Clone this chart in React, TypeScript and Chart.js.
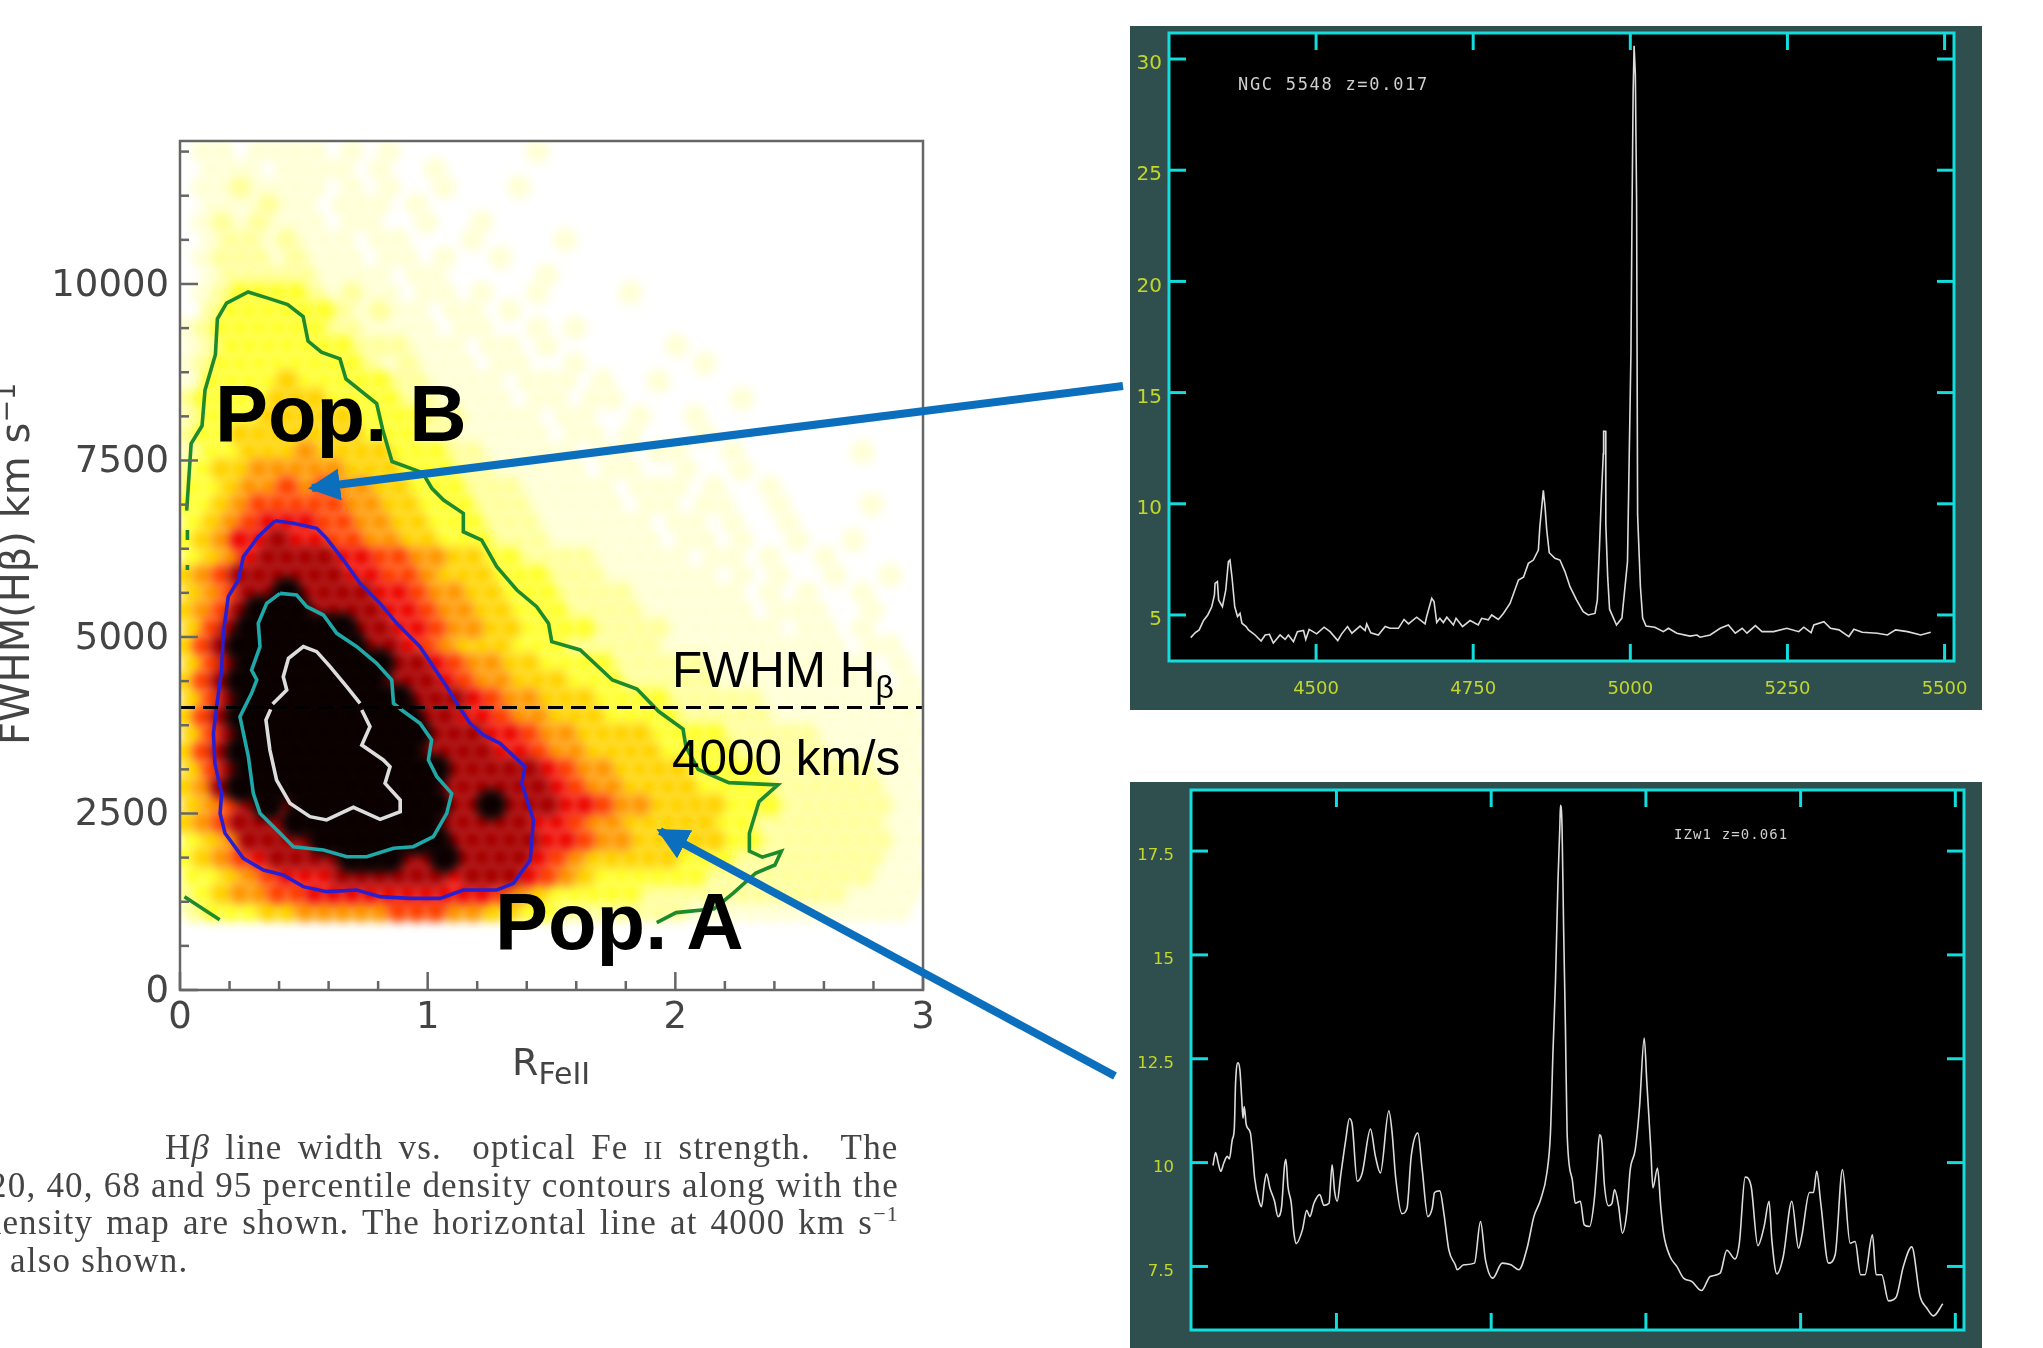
import React, { useEffect, useRef } from "react";
import { Chart, registerables } from "chart.js";

Chart.register(...registerables);

// ---------- density map: one digit per hex cell, level 0 (empty) .. 9 (black) ----------
const densityTopY = 11875;
const densityStepY = 250;
const densityStepX = 0.075;
const densityRows = [
  "0110111101010000000100000000000000000000",
  "0111011110100100000000000000000000000000",
  "0112111101010010001000000000000000000000",
  "0111211011101000000000000000000000000000",
  "0121211101100100100000000000000000000000",
  "0122121110110001000010000000000000000000",
  "0122212111011010010000000000000000000000",
  "0122222111101100000100000000000000000000",
  "0123333212110110100100001000000000000000",
  "0233333321211011010000000000000000000000",
  "1233333322111101100101000000000000000000",
  "1233333332221110110100000010000000000000",
  "1233333333212111011001000000100000000000",
  "1333343333322111101110100100000000000000",
  "2333344433332211110110110000001000000000",
  "2333444443333221111011001001000000000000",
  "2334444444333221111101101000100000000000",
  "2334445444433322111110110110010000001000",
  "2344555554443332211111011001001000000000",
  "3345565655443332221111101110100100000000",
  "3345666665544333222111110110110010000100",
  "3456777665544333222111111011010010000000",
  "3457787766554433322211111101101001001000",
  "3457888877665544332222111110110100100000",
  "4568888887766544433322211111101010010010",
  "4568898888776554433322221111110101001000",
  "4568999888877655443332222111111011100100",
  "4689999998877655443333222211111101101000",
  "4689999999887654443332222211111111110110",
  "4689999999988765544333322222111111111010",
  "4689999999988876554443332222211111111101",
  "4689999999998887655444333322222111111111",
  "4689999999999887765544433332222211111111",
  "4689999999999888776554444333322222111111",
  "4689999999999888877655444433332222211111",
  "4689999999999988888765544443333222222111",
  "4589999999999988888876554444333322222211",
  "4568989999999988988877655444433322222211",
  "4568889999999988888776554444433222222211",
  "3458888999999988888776554444433222222211",
  "3456788889998898888765444443332222222211",
  "3345677788888878887654333333222222222111",
  "2345566777777777765433333222222222221111",
  "2333445555566655443322222221111111111110",
];
const densityColors = ["#ffffff", "#ffffd6", "#ffff9c", "#ffff2e", "#ffd400", "#ff9800", "#ff4500", "#ee0a00", "#a80000", "#0c0000"];
const densityRadius = [0, 12, 12, 12, 12, 12, 12, 12, 13, 16];

// ---------- contours (RFeII, FWHM) ----------
const greenContour = [[.027,6790],[.045,7738],[.089,7991],[.101,8496],[.143,9002],[.151,9507],[.188,9728],[.275,9886],[.361,9792],[.435,9709],[.497,9539],[.517,9191],[.571,9033],[.646,8939],[.670,8654],[.794,8307],[.819,7928],[.856,7485],[.979,7328],[1.017,7106],[1.064,6940],[1.144,6751],[1.144,6491],[1.218,6373],[1.279,5996],[1.36,5665],[1.44,5429],[1.488,5193],[1.501,4934],[1.616,4816],[1.746,4390],[1.845,4263],[1.932,3947],[2.031,3695],[2.043,3442],[2.092,3126],[2.216,2937],[2.414,2905],[2.338,2669],[2.299,2219],[2.299,1966],[2.351,1882],[2.428,1966],[2.402,1770],[2.325,1657],[2.235,1376],[2.157,1152],[2.003,1096],[1.925,955]];
const greenCorner = [[.018,1320],[.16,994]];
const greenFragmentA = [[.03,6515],[.03,6326]];
const greenFragmentB = [[.03,6020],[.03,5950]];
const blueContour = [[.384,6647],[.458,6610],[.552,6539],[.592,6397],[.660,6090],[.727,5760],[.808,5476],[.875,5193],[.969,4863],[1.023,4580],[1.077,4296],[1.131,3989],[1.171,3777],[1.225,3612],[1.292,3494],[1.393,3163],[1.380,2927],[1.427,2408],[1.414,1841],[1.346,1511],[1.279,1416],[1.144,1416],[1.050,1298],[.929,1298],[.808,1322],[.714,1416],[.592,1393],[.498,1464],[.417,1629],[.337,1700],[.256,1865],[.182,2219],[.162,2502],[.168,2785],[.141,3210],[.135,3635],[.148,4013],[.168,4532],[.175,5052],[.195,5571],[.236,5807],[.256,6137],[.316,6421],[.384,6647]];
const tealContour = [[.404,5618],[.471,5595],[.512,5429],[.579,5311],[.633,5052],[.714,4863],[.794,4627],[.855,4391],[.862,4060],[.895,3966],[.969,3777],[1.016,3541],[1.003,3258],[1.037,3022],[1.097,2785],[1.077,2502],[1.023,2172],[.942,2030],[.862,2007],[.754,1888],[.673,1888],[.579,1983],[.458,2030],[.404,2219],[.323,2502],[.296,2785],[.276,3305],[.242,3871],[.289,4202],[.310,4391],[.289,4532],[.323,4863],[.316,5193],[.350,5476],[.404,5618]];
const whiteContourLower = [[.734,3966],[.767,3730],[.734,3470],[.821,3258],[.848,3163],[.828,2927],[.889,2691],[.889,2526],[.808,2417],[.700,2587],[.592,2408],[.525,2455],[.444,2644],[.390,2974],[.363,3399],[.347,3824],[.366,3975]];
const whiteContourUpper = [[.374,4051],[.431,4249],[.417,4438],[.438,4697],[.498,4863],[.552,4792],[.606,4580],[.673,4296],[.727,4060]];
const splitLine = [[0,4000],[3,4000]];

const leftXTicks = [0, 1, 2, 3];
const leftYTicks = [0, 2500, 5000, 7500, 10000];
const leftXMinor = [0.2,0.4,0.6,0.8,1.2,1.4,1.6,1.8,2.2,2.4,2.6,2.8];
const leftYMinor = [625,1250,1875,3125,3750,4375,5625,6250,6875,8125,8750,9375,10625,11250,11875];

// ---------- spectra ----------
const waveTicks = [4500, 4750, 5000, 5250, 5500];
const ngcFluxTicks = [5, 10, 15, 20, 25, 30];
const izwFluxTicks = [7.5, 10, 12.5, 15, 17.5];

const ngcWave = [4300.6,4307.5,4314,4321,4327.7,4334,4338.3,4339.3,4343,4345,4351,4356.3,4360.5,4363,4366.4,4370.6,4375,4379,4382,4388.7,4392.4,4403,4412.5,4419,4425.8,4432,4442.7,4450.7,4456,4464,4470.3,4480,4483.6,4489,4501,4512.7,4522.3,4534.5,4540.8,4550,4557,4570,4578,4580.6,4587,4599,4610,4617.7,4631,4640,4647,4660,4673.4,4676,4684,4687.7,4692,4697,4702.5,4708,4718.5,4722.7,4733,4745,4758,4763.5,4774,4779.4,4790,4798,4808.6,4822,4830,4837.8,4845.7,4853.7,4856,4861.6,4864.3,4867,4871,4880,4888,4896,4904,4914.6,4925,4933,4943.8,4947.5,4951,4953.6,4957,4957.5,4960.7,4961,4964,4967,4978,4986.6,4995.5,4998,5001,5002.7,5004.5,5006,5008,5010,5011.6,5016,5019.6,5025,5039,5052.6,5060.6,5074,5095,5106,5111,5127,5143,5156,5167,5178,5185.6,5199,5209.5,5228,5249,5268,5276,5287.6,5292,5308,5318.6,5332,5347.7,5355.7,5369,5393,5409,5422,5441,5462,5478];
const ngcFlux = [3.98,4.2,4.33,4.75,5,5.37,5.9,6.42,6.5,5.67,5.37,6.12,7.4,7.47,6.65,5.37,4.93,5.07,4.63,4.48,4.33,4.1,3.83,4.1,4.13,3.74,4.1,3.9,4.1,3.8,4.25,4.3,3.9,4.35,4.15,4.45,4.25,3.85,4.15,4.48,4.18,4.5,4.3,4.6,4.2,4.1,4.48,4.4,4.4,4.8,4.6,4.9,4.6,4.93,5.75,5.6,4.66,4.85,4.66,4.9,4.55,4.85,4.48,4.75,4.55,4.85,4.78,5,4.8,5.07,5.52,6.57,6.7,7.32,7.47,7.92,8.95,10.6,9.87,8.82,7.8,7.55,7.47,6.95,6.27,5.67,5.15,5,5.07,5.67,8.1,10.1,12.25,13.26,13.26,9.1,6.7,5.26,4.55,4.86,7.4,11.7,16.8,23.1,28.5,30.6,29.3,23.6,9.5,6.3,4.86,4.5,4.45,4.25,4.4,4.18,4.05,4.1,4,4.1,4.4,4.55,4.18,4.4,4.18,4.52,4.25,4.25,4.4,4.25,4.45,4.2,4.55,4.7,4.4,4.33,4.03,4.36,4.22,4.18,4.1,4.33,4.25,4.1,4.22];

const izwWave = [4300.5,4304.8,4309,4313,4318,4323.6,4327,4331.7,4335,4337,4341,4344,4346.8,4349,4351,4354.3,4361,4364,4367.8,4375,4379,4383,4387,4392.5,4400,4405.5,4411.4,4416,4418.4,4421.6,4427,4431.3,4435,4445,4452,4457,4463.6,4473,4479.8,4488,4493,4497,4501.3,4506.7,4515,4521,4525.5,4533.6,4541.7,4555,4563,4571,4584.7,4590,4595.5,4606,4614,4620.8,4631.6,4638.6,4647.7,4654.7,4658.5,4667,4673.6,4681.6,4692,4695,4705.9,4723,4732.8,4740.8,4752.7,4767.8,4782,4794.7,4808,4819,4829.7,4840,4845.8,4850,4854,4858,4861,4862,4864.5,4867,4870,4872.7,4881,4886,4894,4900.4,4909,4916.6,4921,4925,4929,4932.7,4939.7,4945,4949.4,4955.9,4962,4969,4974.7,4982.8,4989.8,4997.3,5001.6,5008,5011.3,5018.8,5024,5028.5,5039,5050,5060.8,5074,5090,5103.9,5120,5130.8,5144,5151,5160.4,5170,5180.9,5191,5199,5203.5,5211.6,5222,5235.8,5246.6,5252,5264.3,5270.8,5276,5282.6,5295,5305.8,5317.6,5330,5338,5347,5354,5366,5372,5381,5392,5404,5416,5429.6,5443,5453.8,5464.6,5479.7];
const izwFlux = [9.93,10.24,9.99,9.79,9.99,10.15,10.09,10.55,10.83,11.91,12.4,12.23,11.59,11.07,11.35,10.91,10.71,10.31,9.63,9.07,8.94,9.43,9.73,9.39,9.07,8.7,8.94,9.91,10.08,9.43,9.02,8.3,8.05,8.38,8.85,8.7,9.02,9.23,8.97,9.02,9.95,9.31,9.07,9.67,10.55,11.06,10.91,9.55,9.75,10.81,10.15,9.75,11.25,10.71,9.67,8.77,8.9,10.15,10.71,9.83,8.7,8.9,9.28,9.32,8.78,7.9,7.54,7.42,7.54,7.58,8.58,7.66,7.22,7.58,7.54,7.42,7.94,8.7,9.1,9.75,10.71,12.72,14.4,16.8,18.1,18.6,18.1,15.7,13.25,10.71,9.59,9.02,9.07,8.5,8.46,9.1,9.91,10.67,10.47,9.51,8.96,9.01,9.35,8.95,8.3,8.78,9.83,10.31,11.35,13,11.91,10.31,9.39,9.87,8.94,8.3,7.74,7.5,7.22,7.14,6.92,7.26,7.34,7.89,7.68,8.06,9.65,9.43,8,8.46,9.07,8.14,7.32,7.74,9.07,7.94,8.24,9.28,9.28,9.79,9.02,7.58,7.78,9.83,8.06,8.1,7.3,7.3,8.26,7.3,7.3,6.67,6.75,7.5,7.97,6.78,6.5,6.31,6.6];

const pairs = (p: number[][]) => p.map(([x, y]) => ({ x, y }));
const zip = (xs: number[], ys: number[]) => xs.map((x, i) => ({ x, y: ys[i] }));

function densityPoints() {
  const cells: { x: number; y: number; level: number }[] = [];
  densityRows.forEach((row, r) => {
    const shift = r % 2 ? densityStepX / 2 : 0;
    for (let c = 0; c < row.length; c++) {
      const level = Number(row[c]);
      if (level > 0) cells.push({ x: densityStepX * (c + 0.5) + shift - densityStepX / 4, y: densityTopY - r * densityStepY, level });
    }
  });
  return cells.sort((a, b) => a.level - b.level);
}

type FrameOpts = { color: string; width: number; major: number; minor?: number; xMinor?: number[]; yMinor?: number[]; mirror?: boolean; fill?: string };

const framePlugin = (o: FrameOpts) => ({
  id: "frame",
  beforeDatasetsDraw(chart: any) {
    if (!o.fill) return;
    const a = chart.chartArea;
    chart.ctx.fillStyle = o.fill;
    chart.ctx.fillRect(a.left, a.top, a.right - a.left, a.bottom - a.top);
  },
  afterDraw(chart: any) {
    const { ctx, chartArea: a, scales } = chart;
    ctx.save();
    ctx.strokeStyle = o.color;
    ctx.lineWidth = o.width;
    ctx.strokeRect(a.left, a.top, a.right - a.left, a.bottom - a.top);
    const seg = (x1: number, y1: number, x2: number, y2: number) => {
      ctx.beginPath(); ctx.moveTo(x1, y1); ctx.lineTo(x2, y2); ctx.stroke();
    };
    const xTick = (v: number, len: number) => {
      const p = scales.x.getPixelForValue(v);
      seg(p, a.bottom, p, a.bottom - len);
      if (o.mirror) seg(p, a.top, p, a.top + len);
    };
    const yTick = (v: number, len: number) => {
      const p = scales.y.getPixelForValue(v);
      seg(a.left, p, a.left + len, p);
      if (o.mirror) seg(a.right, p, a.right - len, p);
    };
    scales.x.ticks.forEach((t: any) => xTick(t.value, o.major));
    scales.y.ticks.forEach((t: any) => yTick(t.value, o.major));
    (o.xMinor || []).forEach((v) => xTick(v, o.minor || 0));
    (o.yMinor || []).forEach((v) => yTick(v, o.minor || 0));
    ctx.restore();
  },
});

const blurPlugin = {
  id: "densityBlur",
  beforeDatasetDraw(chart: any, args: any) {
    if (args.index === 0) chart.ctx.filter = "blur(5px)";
  },
  afterDatasetDraw(chart: any, args: any) {
    if (args.index === 0) chart.ctx.filter = "none";
  },
};

const axisOptions = (min: number, max: number, values: number[], font: any, color: string, padding: number, labelOffset: number, size: number, vertical: boolean) => ({
  type: "linear",
  min,
  max,
  grid: { display: false, drawTicks: false },
  border: { display: false },
  ticks: { font, color, padding, labelOffset, maxRotation: 0, autoSkip: false, callback: (v: any) => String(v) },
  afterBuildTicks: (s: any) => { s.ticks = values.map((value) => ({ value })); },
  afterFit: (s: any) => {
    if (vertical) s.width = size; else s.height = size;
    s.paddingLeft = s.paddingRight = s.paddingTop = s.paddingBottom = 0;
  },
});

const lineSet = (data: any[], color: string, width: number, dash: number[] = []) => ({
  data, showLine: true, borderColor: color, borderWidth: width, borderDash: dash, pointRadius: 0, tension: 0, fill: false, order: 1,
});

function LeftChart() {
  const ref = useRef<HTMLCanvasElement>(null);
  useEffect(() => {
    const cells = densityPoints();
    const font = { family: "'DejaVu Sans'", size: 37 };
    const chart = new Chart(ref.current!, {
      type: "scatter",
      data: {
        datasets: [
          { data: cells, backgroundColor: cells.map((c) => densityColors[c.level]), borderWidth: 0, pointRadius: cells.map((c) => densityRadius[c.level]), order: 5 } as any,
          lineSet(pairs(greenContour), "#1d8a2c", 3.6),
          lineSet(pairs(greenCorner), "#1d8a2c", 3.6),
          lineSet(pairs(greenFragmentA), "#1d8a2c", 3.6, [10, 8]),
          lineSet(pairs(greenFragmentB), "#1d8a2c", 3.6),
          lineSet(pairs(blueContour), "#2a1fd0", 3.6),
          lineSet(pairs(tealContour), "#1fa8a8", 3.6),
          lineSet(pairs(whiteContourLower), "#dddddd", 3.6),
          lineSet(pairs(whiteContourUpper), "#dddddd", 3.6),
          { ...lineSet(pairs(splitLine), "#000000", 3, [15, 8]), order: 0 },
        ],
      },
      options: {
        animation: false,
        responsive: false,
        events: [],
        layout: { padding: { left: 0, top: 41, right: 77, bottom: 0 } },
        plugins: { legend: { display: false }, tooltip: { enabled: false } },
        scales: {
          x: axisOptions(0, 3, leftXTicks, font, "#444444", 6, 0, 70, false),
          y: axisOptions(0, 12025, leftYTicks, font, "#444444", 11, 2, 180, true),
        } as any,
      },
      plugins: [blurPlugin, framePlugin({ color: "#666666", width: 2.5, major: 18, minor: 9, xMinor: leftXMinor, yMinor: leftYMinor })] as any,
    });
    return () => chart.destroy();
  }, []);
  return <canvas ref={ref} width={1000} height={960} style={{ position: "absolute", left: 0, top: 100, width: 1000, height: 960, filter: "blur(0.6px)" }} />;
}

type SpectrumProps = { wave: number[]; flux: number[]; yTicks: number[]; yMin: number; yMax: number; xMin: number; xMax: number; top: number; height: number; plotLeft: number; plotBottom: number; plotTop: number; plotRight: number; yFont: number; yPad: number; xPad: number; smooth?: boolean };

function Spectrum({ wave, flux, yTicks, yMin, yMax, xMin, xMax, top, height, plotLeft, plotBottom, plotTop, plotRight, yFont, yPad, xPad, smooth }: SpectrumProps) {
  const ref = useRef<HTMLCanvasElement>(null);
  useEffect(() => {
    const yellow = "#c3d62a";
    const chart = new Chart(ref.current!, {
      type: "scatter",
      data: { datasets: [{ ...lineSet(zip(wave, flux), "#dcdcdc", 1.6), cubicInterpolationMode: smooth ? "monotone" : "default" } as any] },
      options: {
        animation: false,
        responsive: false,
        events: [],
        layout: { padding: { left: 0, right: plotRight, top: plotTop, bottom: 0 } },
        plugins: { legend: { display: false }, tooltip: { enabled: false } },
        scales: {
          x: axisOptions(xMin, xMax, waveTicks, { family: "'DejaVu Sans'", size: 18 }, yellow, xPad, 0, plotBottom, false),
          y: axisOptions(yMin, yMax, yTicks, { family: "'DejaVu Sans'", size: yFont }, yellow, yPad, 5, plotLeft, true),
        } as any,
      },
      plugins: [framePlugin({ color: "#12dcdc", width: 3, major: 17, mirror: true, fill: "#000000" })] as any,
    });
    return () => chart.destroy();
  }, []);
  return <canvas ref={ref} width={852} height={height} style={{ position: "absolute", left: 1130, top, width: 852, height, background: "#2f4f4f" }} />;
}

const abs = (left: number, top: number, extra: React.CSSProperties = {}): React.CSSProperties => ({ position: "absolute", left, top, whiteSpace: "pre", lineHeight: 1, ...extra });

const captionStyle: React.CSSProperties = { fontFamily: "'Liberation Serif'", fontSize: 35, letterSpacing: 1.2, color: "#444", filter: "blur(0.5px)" };
const captionRight = (top: number, wordSpacing = 0): React.CSSProperties => ({ position: "absolute", right: 2043 - 899, top, whiteSpace: "pre", lineHeight: 1, wordSpacing, ...captionStyle });

export default function App() {
  return (
    <div style={{ position: "fixed", left: 0, top: 0, width: 2043, height: 1348, overflow: "hidden", background: "#fff" }}>
      <LeftChart />
      <Spectrum wave={ngcWave} flux={ngcFlux} yTicks={ngcFluxTicks} yMin={2.93} yMax={31.17} xMin={4266} xMax={5515} top={26} height={684}
        plotLeft={39} plotBottom={49} plotTop={7} plotRight={28} yFont={20} yPad={7} xPad={18} />
      <Spectrum wave={izwWave} flux={izwFlux} yTicks={izwFluxTicks} yMin={5.97} yMax={18.97} xMin={4265} xMax={5514} top={782} height={566}
        plotLeft={61} plotBottom={18} plotTop={8} plotRight={18} yFont={16.5} yPad={17} xPad={17} smooth />

      <div style={abs(-5, 745, { fontFamily: "'DejaVu Sans'", fontSize: 40, color: "#444", transform: "rotate(-90deg)", transformOrigin: "0 0", filter: "blur(0.6px)" })}>
        FWHM(Hβ) km s<sup style={{ fontSize: 27, lineHeight: 0 }}>−1</sup>
      </div>
      <div style={abs(512, 1043, { fontFamily: "'DejaVu Sans'", fontSize: 38, color: "#444", filter: "blur(0.6px)" })}>
        R<sub style={{ fontSize: 30, lineHeight: 0 }}>FeII</sub>
      </div>

      <div style={abs(215, 374, { fontFamily: "'Liberation Sans'", fontWeight: 700, fontSize: 79.5, color: "#000" })}>Pop. B</div>
      <div style={abs(495, 882, { fontFamily: "'Liberation Sans'", fontWeight: 700, fontSize: 79.5, color: "#000" })}>Pop. A</div>
      <div style={abs(672, 645, { fontFamily: "'Liberation Sans'", fontSize: 49.5, color: "#000" })}>
        FWHM H<sub style={{ fontSize: 32, lineHeight: 0 }}>β</sub>
      </div>
      <div style={abs(672, 733, { fontFamily: "'Liberation Sans'", fontSize: 49.5, color: "#000" })}>4000 km/s</div>

      <div style={abs(165, 1130, { ...captionStyle, wordSpacing: 5.2 })}>H<i>β</i> line width vs.  optical Fe <span style={{ fontSize: 26 }}>II</span> strength.  The</div>
      <div style={captionRight(1168)}>20, 40, 68 and 95 percentile density contours along with the</div>
      <div style={captionRight(1205, 3)}>density map are shown. The horizontal line at 4000 km s<sup style={{ fontSize: 22, lineHeight: 0 }}>−1</sup></div>
      <div style={abs(10, 1243, captionStyle)}>also shown.</div>

      <div style={abs(1238, 76, { fontFamily: "'DejaVu Sans Mono'", fontSize: 17, color: "#cfcfcf", letterSpacing: 1.7 })}>NGC 5548 z=0.017</div>
      <div style={abs(1674, 827, { fontFamily: "'DejaVu Sans Mono'", fontSize: 14, color: "#cfcfcf", letterSpacing: 1.1 })}>IZw1 z=0.061</div>

      <svg width={2043} height={1348} style={{ position: "absolute", left: 0, top: 0 }}>
        <defs>
          <marker id="head" markerWidth="4" markerHeight="4" refX="3.5" refY="2" orient="auto">
            <path d="M0,0 L4,2 L0,4 Z" fill="#0b6fbd" />
          </marker>
        </defs>
        <line x1={1123} y1={386} x2={312} y2={488} stroke="#0b6fbd" strokeWidth={8} markerEnd="url(#head)" />
        <line x1={1115} y1={1076} x2={660} y2={831} stroke="#0b6fbd" strokeWidth={8} markerEnd="url(#head)" />
      </svg>
    </div>
  );
}
